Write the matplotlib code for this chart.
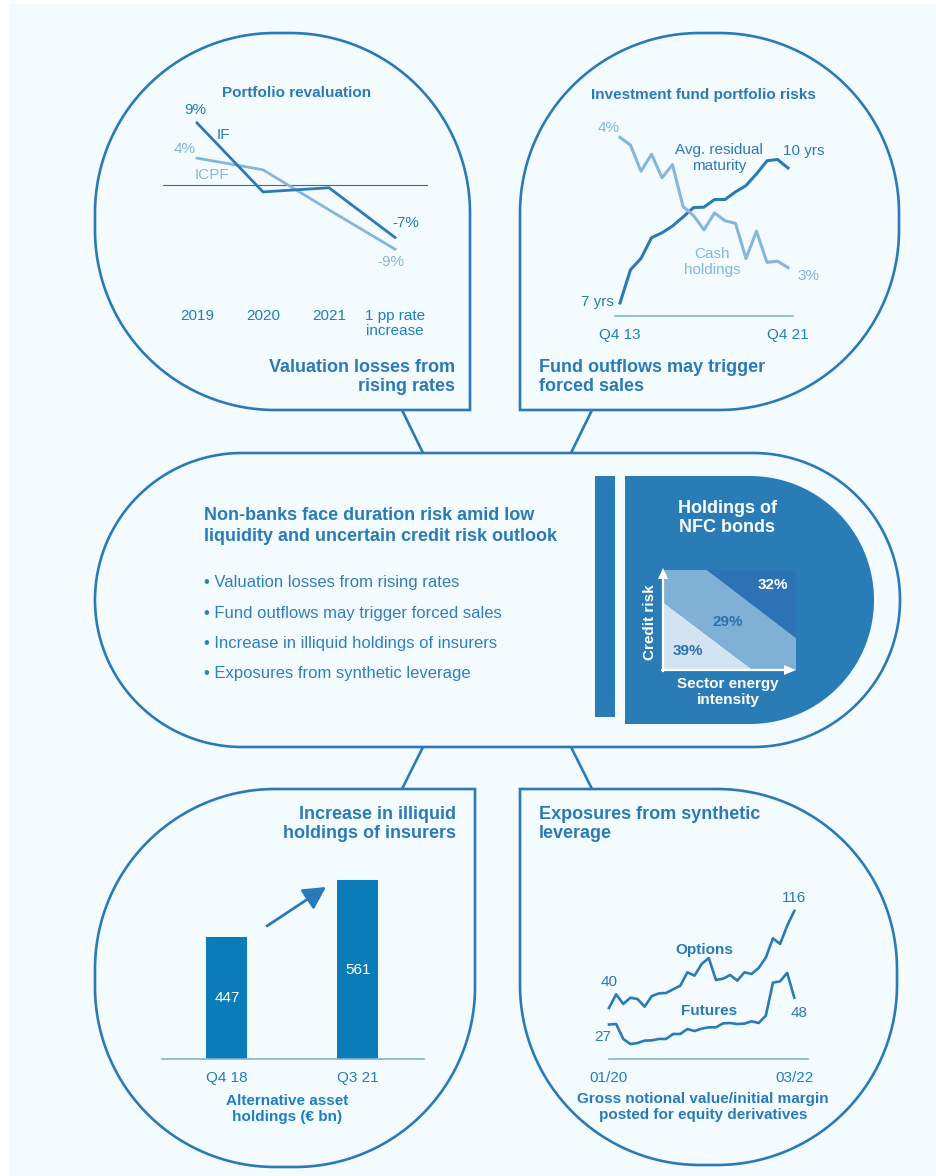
import matplotlib
matplotlib.use('Agg')
import matplotlib.pyplot as plt
import numpy as np
from matplotlib.patches import Polygon, Rectangle
from matplotlib.transforms import blended_transform_factory

plt.rcParams['font.family'] = ['Liberation Sans', 'DejaVu Sans']

# ---------------- data ----------------
rev_cats = ['2019', '2020', '2021', '1 pp rate\nincrease']
rev_if = [9.0, -1.0, -0.4, -7.6]
rev_icpf = [3.9, 2.2, -3.6, -9.3]

fund_ticks = ['Q4 13', 'Q4 21']
maturity_yrs = [7.0, 7.74, 7.99, 8.45, 8.56, 8.71, 8.91, 9.12, 9.13, 9.30,
                9.30, 9.47, 9.61, 9.87, 10.16, 10.19, 10.0]
cash_pct = [4.00, 3.94, 3.74, 3.87, 3.69, 3.79, 3.47, 3.40, 3.29, 3.42,
            3.36, 3.34, 3.07, 3.28, 3.04, 3.05, 3.00]

ins_cats = ['Q4 18', 'Q3 21']
ins_vals = [447, 561]

deriv_ticks = ['01/20', '03/22']
options_vals = [40, 50.7, 43.1, 48.0, 47.0, 41.0, 49.3, 51.4, 51.7, 54.6, 57.4,
                67.9, 65.3, 74.4, 79.1, 61.9, 62.9, 65.8, 61.4, 67.9, 66.6,
                71.3, 79.4, 94.5, 90.1, 104.4, 116]
futures_vals = [27, 27.4, 15.7, 11.7, 12.5, 14.4, 14.6, 15.7, 15.7, 19.6, 19.6,
                23.5, 21.9, 23.8, 24.8, 24.8, 27.9, 28.2, 27.4, 27.7, 29.5,
                28.2, 33.9, 59.8, 60.8, 67.4, 48]

nfc_labels = ['39%', '29%', '32%']

bullets = ['Valuation losses from rising rates',
           'Fund outflows may trigger forced sales',
           'Increase in illiquid holdings of insurers',
           'Exposures from synthetic leverage']

# ---------------- style ----------------
W, H = 936, 1176
BLUE = '#2a7ab8'
TXT = '#2a7ab8'
TICK = '#1f7fc0'
LIGHT = '#86b6dc'
AXL = '#7fb4da'
BAR = '#0a7cb8'
DFILL = '#2a7cb7'
BG = '#f3fbff'

fig = plt.figure(figsize=(W / 100, H / 100), dpi=100)
fig.patch.set_facecolor('white')
bg = fig.add_axes([0, 0, 1, 1])
bg.set_xlim(0, W)
bg.set_ylim(H, 0)
bg.axis('off')
bg.set_zorder(0)
bg.add_patch(Rectangle((9, 4), W - 9, H - 4, facecolor=BG, edgecolor='none', zorder=0))

# top overlay for annotations/text (above the chart axes)
top = fig.add_axes([0, 0, 1, 1])
top.set_xlim(0, W)
top.set_ylim(H, 0)
top.axis('off')
top.patch.set_alpha(0)
top.set_zorder(10)


def shape_pts(x0, y0, x1, y1, r, square=()):
    pts = []
    specs = [('tl', x0 + r, y0 + r, 180, 270, (x0, y0)),
             ('tr', x1 - r, y0 + r, 270, 360, (x1, y0)),
             ('br', x1 - r, y1 - r, 0, 90, (x1, y1)),
             ('bl', x0 + r, y1 - r, 90, 180, (x0, y1))]
    for name, cx, cy, a0, a1, corner in specs:
        if name in square:
            pts.append(corner)
        else:
            tt = np.radians(np.linspace(a0, a1, 60))
            pts.extend(zip(cx + r * np.cos(tt), cy + r * np.sin(tt)))
    return pts


def add_shape(pts, fc='none', ec=BLUE, lw=1.9, z=1):
    bg.add_patch(Polygon(pts, closed=True, facecolor=fc, edgecolor=ec, lw=lw, zorder=z))


# bubbles
add_shape(shape_pts(95, 33, 470, 410, 180, square=('br',)))
add_shape(shape_pts(520, 33, 899, 410, 180, square=('bl',)))
add_shape(shape_pts(95, 789, 475, 1167, 180, square=('tr',)))
add_shape(shape_pts(520, 789, 897, 1165, 180, square=('tl',)))
# central pill
add_shape(shape_pts(95, 453, 900, 747, 147))
# connectors
for (xa, ya, xb, yb) in [(402, 410, 423, 453), (592, 410, 571, 453),
                         (423, 747, 402, 789), (571, 747, 592, 789)]:
    bg.plot([xa, xb], [ya, yb], color=BLUE, lw=1.9, zorder=1, solid_capstyle='butt')

# dark bar and D shape
bg.add_patch(Rectangle((595, 476), 20, 241, facecolor=DFILL, edgecolor='none', zorder=1))
add_shape(shape_pts(625, 476, 874, 724, 124, square=('tl', 'bl')), fc=DFILL, ec='none')


def px_axes(x0, y0, x1, y1):
    a = fig.add_axes([x0 / W, 1 - y1 / H, (x1 - x0) / W, (y1 - y0) / H])
    a.set_facecolor('none')
    a.patch.set_alpha(0)
    for s in a.spines.values():
        s.set_visible(False)
    a.set_xticks([])
    a.set_yticks([])
    a.set_zorder(3)
    return a


def xtext(ax, xv, ypix, s, **kw):
    tr = blended_transform_factory(ax.transData, top.transData)
    top.text(xv, ypix, s, transform=tr, **kw)


def t(x, y, s, size=11, color=TXT, bold=False, ha='center', va='center', **kw):
    top.text(x, y, s, fontsize=size, color=color, fontweight='bold' if bold else 'normal',
             ha=ha, va=va, zorder=5, **kw)


# ---------------- top-left: portfolio revaluation ----------------
t(297, 93, 'Portfolio revaluation', size=11, bold=True)
a1 = px_axes(163, 110, 428, 260)
a1.set_xlim(-0.515, 3.5)
a1.set_ylim(-10.87, 10.87)
a1.axhline(0, color='#2a6fa8', lw=0.8)
xs = np.arange(len(rev_cats))
a1.plot(xs, rev_icpf, color=LIGHT, lw=2.0, clip_on=False)
a1.plot(xs, rev_if, color=BLUE, lw=2.0, clip_on=False)
for i, c in enumerate(rev_cats):
    xtext(a1, i, 309, c, fontsize=11, color=TICK, ha='center', va='top', linespacing=1.1)
t(195, 110, '9%', color=TXT)
t(223, 135, 'IF', color=TXT)
t(185, 149, '4%', color=LIGHT)
t(212, 175, 'ICPF', color=LIGHT)
t(406, 223, '-7%', color=TXT)
t(391, 262, '-9%', color=LIGHT)
t(455, 377, 'Valuation losses from\nrising rates', size=13, bold=True, ha='right',
  linespacing=1.2)

# ---------------- top-right: investment fund portfolio risks ----------------
t(703, 95, 'Investment fund portfolio risks', size=11, bold=True)
a2 = px_axes(615, 120, 793, 316)
a2.set_xlim(-0.476, 16.476)
a2.set_ylim(6.711, 11.067)
a2.spines['bottom'].set_visible(True)
a2.spines['bottom'].set_color(AXL)
a2.spines['bottom'].set_linewidth(1.2)
a2b = a2.twinx()
a2b.set_facecolor('none')
for s in a2b.spines.values():
    s.set_visible(False)
a2b.set_yticks([])
a2b.set_ylim(2.629, 4.133)
xq = np.arange(len(maturity_yrs))
a2.plot(xq, maturity_yrs, color=BLUE, lw=2.2, clip_on=False, zorder=3)
a2b.plot(xq, cash_pct, color=LIGHT, lw=2.2, clip_on=False, zorder=2)
xtext(a2, 0, 335, fund_ticks[0], fontsize=11, color=TICK, ha='center', va='center')
xtext(a2, 16, 335, fund_ticks[1], fontsize=11, color=TICK, ha='center', va='center')
t(609, 128, '4%', color=LIGHT)
t(719, 158, 'Avg. residual\nmaturity', color=TXT, linespacing=1.2)
t(804, 151, '10 yrs', color=TXT)
t(712, 262, 'Cash\nholdings', color=LIGHT, linespacing=1.2)
t(808, 276, '3%', color=LIGHT)
t(597, 302, '7 yrs', color=TXT)
t(539, 377, 'Fund outflows may trigger\nforced sales', size=13, bold=True, ha='left',
  linespacing=1.2)

# ---------------- centre ----------------
t(204, 526, 'Non-banks face duration risk amid low\nliquidity and uncertain credit risk outlook',
  size=13, bold=True, ha='left', linespacing=1.25)
for i, b in enumerate(bullets):
    t(204, 583 + i * 30.3, '\u2022 ' + b, size=12, ha='left', color='#2f7fbf')

t(727, 518, 'Holdings of\nNFC bonds', size=13, bold=True, color='white', linespacing=1.15)
a3 = px_axes(663, 570, 796, 670)
a3.set_xlim(0, 1)
a3.set_ylim(0, 1)
a3.add_patch(Polygon([(0, 0), (0, 0.68), (0.677, 0)], facecolor='#d2e4f1', edgecolor='none'))
a3.add_patch(Polygon([(0, 0.68), (0, 1), (0.33, 1), (1, 0.32), (1, 0), (0.677, 0)],
                     facecolor='#7fb1d6', edgecolor='none'))
a3.add_patch(Polygon([(0.33, 1), (1, 1), (1, 0.32)], facecolor='#2d72b4', edgecolor='none'))
# axes arrows
top.plot([663, 663], [671, 576], color='white', lw=1.6, zorder=4)
top.plot([662, 787], [670, 670], color='white', lw=1.6, zorder=4)
top.add_patch(Polygon([(658, 579), (668, 579), (663, 568)], facecolor='white', edgecolor='none', zorder=4))
top.add_patch(Polygon([(784, 665), (784, 675), (796, 670)], facecolor='white', edgecolor='none', zorder=4))
t(773, 585, nfc_labels[2], size=11, bold=True, color='white')
t(728, 622, nfc_labels[1], size=11, bold=True, color='#2a6fb0')
t(688, 651, nfc_labels[0], size=11, bold=True, color='#2a6fb0')
t(650, 622, 'Credit risk', size=11, bold=True, color='white', rotation=90)
t(728, 692, 'Sector energy\nintensity', size=11, bold=True, color='white', linespacing=1.15)

# ---------------- bottom-left: insurers ----------------
t(456, 824, 'Increase in illiquid\nholdings of insurers', size=13, bold=True, ha='right',
  linespacing=1.2)
a4 = px_axes(162, 860, 424, 1059)
a4.set_xlim(-0.496, 1.504)
a4.set_ylim(203, 601)
a4.spines['bottom'].set_visible(True)
a4.spines['bottom'].set_color(AXL)
a4.spines['bottom'].set_linewidth(1.2)
xb = np.arange(len(ins_vals))
a4.bar(xb, ins_vals, width=0.313, color=BAR, zorder=2)
lo = a4.get_ylim()[0]
for i, v in enumerate(ins_vals):
    a4.text(i, (v + lo) / 2, str(v), color='white', fontsize=11, ha='center', va='center')
    xtext(a4, i, 1078, ins_cats[i], fontsize=11, color=TICK, ha='center', va='center')
top.annotate('', xy=(326, 887), xytext=(267, 926),
             arrowprops=dict(arrowstyle='-|>,head_length=0.75,head_width=0.4', lw=2.0,
                             color=BLUE, mutation_scale=18, shrinkA=0, shrinkB=0), zorder=4)
t(287, 1109, 'Alternative asset\nholdings (\u20ac bn)', size=11, bold=True, color='#1f7fc0',
  linespacing=1.15)

# ---------------- bottom-right: synthetic leverage ----------------
t(539, 824, 'Exposures from synthetic\nleverage', size=13, bold=True, ha='left',
  linespacing=1.2)
a5 = px_axes(609, 880, 808, 1059)
a5.set_xlim(0, 27.92)
a5.set_ylim(0, 140.2)
a5.spines['bottom'].set_visible(True)
a5.spines['bottom'].set_color(AXL)
a5.spines['bottom'].set_linewidth(1.2)
xm = np.arange(len(options_vals))
a5.plot(xm, options_vals, color=BLUE, lw=1.9, clip_on=False)
a5.plot(xm, futures_vals, color=BLUE, lw=1.9, clip_on=False)
xtext(a5, 0, 1078, deriv_ticks[0], fontsize=11, color=TICK, ha='center', va='center')
xtext(a5, 26, 1078, deriv_ticks[1], fontsize=11, color=TICK, ha='center', va='center')
t(704, 950, 'Options', size=11, bold=True)
t(709, 1011, 'Futures', size=11, bold=True)
t(609, 982, '40', color=TXT)
t(794, 898, '116', color=TXT)
t(603, 1037, '27', color=TXT)
t(799, 1013, '48', color=TXT)
t(703, 1107, 'Gross notional value/initial margin\nposted for equity derivatives', size=11,
  bold=True, color=TXT, linespacing=1.15)

fig.savefig('out.png', dpi=100, facecolor='white')
